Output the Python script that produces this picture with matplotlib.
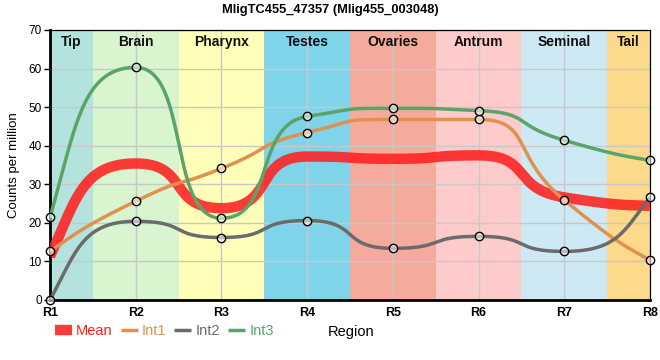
import numpy as np
import matplotlib
matplotlib.use('Agg')
import matplotlib.pyplot as plt
import matplotlib.transforms as mtransforms
from matplotlib.lines import Line2D

plt.rcParams['font.family'] = ['Liberation Sans', 'DejaVu Sans']

# ── data ───────────────────────────────────────────────────────
regions   = ['R1', 'R2', 'R3', 'R4', 'R5', 'R6', 'R7', 'R8']
tissues   = ['Tip', 'Brain', 'Pharynx', 'Testes', 'Ovaries', 'Antrum', 'Seminal', 'Tail']
band_cols = ['#b4e3dd', '#d8f5cf', '#ffffb9', '#7fd4ea', '#f4ab9c', '#fecbcb', '#cdeaf4', '#fdd98b']

mean_cpm = [11.3, 35.4, 23.8, 37.2, 36.6, 37.5, 26.6, 24.4]
int1_cpm = [12.6, 25.6, 34.1, 43.4, 46.8, 46.8, 25.9, 10.3]
int2_cpm = [0.0, 20.4, 16.2, 20.6, 13.4, 16.5, 12.6, 26.6]
int3_cpm = [21.4, 60.3, 21.2, 47.6, 49.7, 49.1, 41.4, 36.2]

title = 'MligTC455_47357 (Mlig455_003048)'


def smooth_curve(xs, ys, a=0.63, b=0.3, n=60):
    """bezier spline: flat at local extremes, control points a*dx away"""
    xs = np.asarray(xs, float); ys = np.asarray(ys, float)
    k = len(xs)
    m = np.zeros(k)
    for i in range(1, k - 1):
        d0 = ys[i] - ys[i - 1]; d1 = ys[i + 1] - ys[i]
        if d0 * d1 <= 0:
            continue
        dx = xs[i + 1] - xs[i - 1]
        s = (ys[i + 1] - ys[i - 1]) / dx
        lim = min(abs(d0), abs(d1)) / (a * (xs[i] - xs[i - 1]))
        m[i] = np.sign(s) * min(abs(s), lim)
    # end tangents
    for i, j in ((0, 1), (k - 1, k - 2)):
        h = xs[j] - xs[i]
        s = (ys[j] - ys[i]) / h
        me = 2 * s - m[j]
        if me * s <= 0:
            me = 0.0
        me = np.sign(me) * min(abs(me), abs(s) / b)
        m[i] = me
    px, py = [], []
    t = np.linspace(0, 1, n)
    for i in range(k - 1):
        h = xs[i + 1] - xs[i]
        f0 = b if i == 0 else a
        f1 = b if i + 1 == k - 1 else a
        p0 = (xs[i], ys[i])
        c1 = (xs[i] + f0 * h, ys[i] + f0 * h * m[i])
        c2 = (xs[i + 1] - f1 * h, ys[i + 1] - f1 * h * m[i + 1])
        p1 = (xs[i + 1], ys[i + 1])
        for out, q in ((px, 0), (py, 1)):
            out.extend((1 - t) ** 3 * p0[q] + 3 * (1 - t) ** 2 * t * c1[q]
                       + 3 * (1 - t) * t ** 2 * c2[q] + t ** 3 * p1[q])
    return np.array(px), np.array(py)


fig, ax = plt.subplots(figsize=(6.6, 3.6), dpi=100)
fig.subplots_adjust(left=50/660, right=650/660, bottom=60/360, top=330/360)

xpos = np.arange(len(regions))
xmax = len(regions) - 1
band_tr = mtransforms.blended_transform_factory(ax.transData, ax.transAxes)
for i, (name, col) in enumerate(zip(tissues, band_cols)):
    lo, hi = max(i - 0.5, 0), min(i + 0.5, xmax)
    ax.axvspan(lo, hi, color=col, lw=0, zorder=0)
    ax.text((lo + hi) / 2, 0.955, name, transform=band_tr, ha='center', va='center',
            fontsize=10, fontweight='bold', color='#111111', zorder=5)

ax.grid(True, color='#c8c8c8', lw=1, zorder=1)
ax.set_axisbelow(True)

series = [
    ('Mean', mean_cpm, '#ff2020', 7.5, 0.88, False),
    ('Int1', int1_cpm, '#e0904f', 2.5, 1.0, True),
    ('Int2', int2_cpm, '#6b6b6b', 2.5, 1.0, True),
    ('Int3', int3_cpm, '#5aa469', 2.5, 1.0, True),
]
handles = []
for z, (name, vals, col, lw, alpha, dots) in enumerate(series):
    cx, cy = smooth_curve(xpos, vals)
    ax.plot(cx, cy, color=col, lw=lw, alpha=alpha, solid_capstyle='butt',
            zorder=3 + z)
    if dots:
        ax.plot(xpos, vals, 'o', ms=6, mfc=(1, 1, 1, 0.55), mec='black',
                mew=1, zorder=8, clip_on=False)
    handles.append(Line2D([0], [0], color=col, lw=lw, alpha=alpha,
                          solid_capstyle='butt'))

ax.set_xlim(0, xmax)
ax.set_ylim(0, 70)
ax.set_xticks(xpos)
ax.set_xticklabels(regions, fontsize=9, fontweight='bold')
ax.set_yticks(np.arange(0, 71, 10))
ax.tick_params(axis='y', labelsize=8.5, length=4, width=1, pad=2)
ax.tick_params(axis='x', length=0, pad=5)

for side in ('left', 'bottom'):
    ax.spines[side].set_linewidth(2)
for side in ('top', 'right'):
    ax.spines[side].set_linewidth(0.9)

ax.set_ylabel('Counts per million', fontsize=9.5)
ax.yaxis.set_label_coords(-0.05, 0.5)

fig.text(0.5, 1 - 10/360, title, ha='center', va='center', fontsize=9.3, fontweight='bold')

leg = fig.legend(handles, [s[0] for s in series], loc='center left',
                 bbox_to_anchor=(55/660, 1 - 331/360), ncol=4, frameon=False,
                 fontsize=10.5, handlelength=1.15, handletextpad=0.3,
                 columnspacing=0.55, borderaxespad=0, borderpad=0,
                 labelcolor='linecolor')
for txt, s in zip(leg.get_texts(), series):
    txt.set_color(s[2])
fig.text(351/660, 1 - 332/360, 'Region', ha='center', va='center', fontsize=10.5)

fig.savefig('out.png', dpi=100)
